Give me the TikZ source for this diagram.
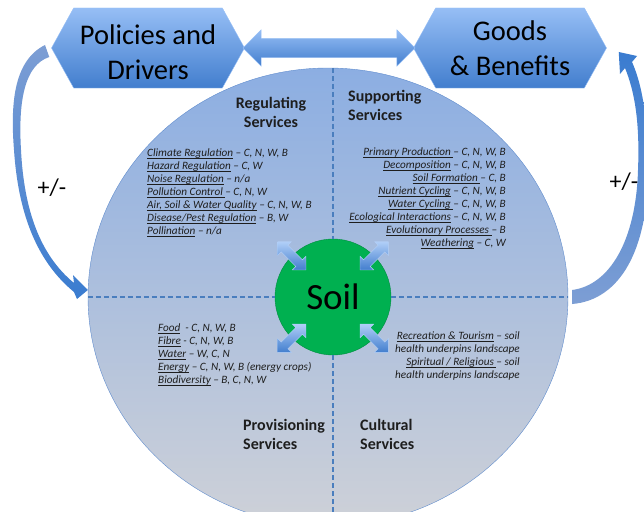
\documentclass[tikz,border=0pt]{standalone}
\usepackage{fontspec}
\setmainfont{Carlito}
\usetikzlibrary{shapes.geometric, shapes.symbols, shapes.arrows, positioning, calc}
\definecolor{hexTop}{RGB}{150,190,245}
\definecolor{hexBot}{RGB}{66,126,206}
\definecolor{ringTop}{RGB}{140,174,226}
\definecolor{ringBot}{RGB}{206,209,216}
\definecolor{ringLine}{RGB}{96,140,205}
\definecolor{dashBlue}{RGB}{74,126,190}
\definecolor{soilGreen}{RGB}{0,176,80}
\definecolor{curveGrey}{RGB}{125,158,212}
\definecolor{curveBlue}{RGB}{58,124,208}
\definecolor{txtGrey}{RGB}{30,30,30}
\newcommand{\svcul}[1]{\underline{\smash{#1}}}
\tikzset{
  hexbox/.style={signal, signal to=west and east, signal pointer angle=122, minimum width=193pt, minimum height=80pt, inner sep=0pt, draw=hexTop, top color=hexTop, bottom color=hexBot, align=center, font=\fontsize{28.5}{35}\selectfont},
  linkarrow/.style={double arrow, draw=hexTop, top color=hexTop, bottom color=hexBot, inner xsep=0pt, inner ysep=9.5pt},
  soilarrow/.style={double arrow, minimum height=40pt, double arrow head extend=5pt, inner xsep=0pt, inner ysep=4.5pt, draw=hexTop!70!white, top color=hexTop!75!white, bottom color=hexBot},
  title/.style={font=\fontsize{16}{19}\selectfont\bfseries, text=txtGrey, inner sep=0pt},
  list/.style={font=\fontsize{11.2}{13}\selectfont\itshape, text=txtGrey, inner sep=0pt},
  divider/.style={dashBlue, dashed, line width=1.4pt, dash pattern=on 5pt off 3pt},
  sign/.style={font=\fontsize{24}{26}\selectfont, inner sep=0pt}
}

\begin{document}
\begin{tikzpicture}[x=1pt, y=-1pt]
\clip (0,0) rectangle (644,511);
% Wheel of services
\node[ellipse, minimum width=480pt, minimum height=458pt, draw=ringLine, top color=ringTop, bottom color=ringBot] (ring) at (328,297) {};
\node[circle, minimum size=116pt, fill=soilGreen, draw=soilGreen!80!black, font=\fontsize{37}{40}\selectfont] (soil) at (333,297) {Soil};
\draw[divider] (ring.west) -- (soil.west);
\draw[divider] (soil.east) -- (ring.east);
\draw[divider] (ring.north -| soil) -- (soil.north);
\draw[divider] (soil.south) -- (ring.south -| soil);

% Arrows round Soil
\node[soilarrow, rotate=-45] (sa1) at (soil.north west) {};
\node[soilarrow, rotate=45] (sa2) at (soil.north east) {};
\node[soilarrow, rotate=45] (sa3) at (soil.south west) {};
\node[soilarrow, rotate=-45] (sa4) at (soil.south east) {};

% Top boxes
\node[hexbox] (pol) at (148,48) {\rule{0pt}{29pt}Policies and\\Drivers};
\node[hexbox] (goods) at (510,48) {Goods\\\& Benefits};
\node[linkarrow, minimum height=172pt, double arrow head extend=8.5pt] (link) at ($(pol.east)!0.5!(goods.west)$) {};

% Feedback arrows
\shade[top color=curveGrey, bottom color=curveBlue] (45,45) .. controls (15,60) and (10,100) .. (14,150)
  .. controls (18,210) and (35,260) .. (74,292)
  -- (77,299) -- ($(ring.west)+(0,-7)$) -- (73,275) -- (74,283)
  .. controls (40,255) and (24,210) .. (21,150)
  .. controls (18,100) and (25,65) .. ($(pol.west)+(-2,9)$) -- cycle;
\shade[top color=curveBlue, bottom color=curveGrey] ($(ring.east)+(4,7)$) .. controls (620,300) and (648,250) .. (648,170)
  .. controls (648,110) and (640,80) .. (632,62)
  -- (637,56) -- ($(goods.east)+(12,4)$) -- (620,74) -- (625,68)
  .. controls (634,90) and (640,120) .. (638,170)
  .. controls (636,240) and (610,285) .. ($(ring.east)+(4,-7)$) -- cycle;
\node[sign] (pm1) at (52,188) {+/-};
\node[sign] (pm2) at (624,182) {+/-};

% Quadrant titles
\node[title, align=center] (reg) at (271,112) {Regulating\\Services};
\node[title, align=left, anchor=north west] (sup) at (348,90) {Supporting\\Services};
\node[title, align=left, anchor=north west] (pro) at (243,419) {Provisioning\\Services};
\node[title, align=left, anchor=north west] (cul) at (360,419) {Cultural\\Services};

% Quadrant lists
\node[list, align=left, anchor=north west] (reglist) at (147,149) {%
\svcul{Climate Regulation} – C, N, W, B\\
\svcul{Hazard Regulation} – C, W\\
\svcul{Noise Regulation} – n/a\\
\svcul{Pollution Control }– C, N, W\\
\svcul{Air, Soil \& Water Quality} – C, N, W, B\\
\svcul{Disease/Pest Regulation} – B, W\\
\svcul{Pollination} – n/a};
\node[list, align=right, anchor=north east] (suplist) at (506,148) {%
\svcul{Primary Production }– C, N, W, B\\
\svcul{Decomposition} – C, N, W, B\\
\svcul{Soil Formation }– C, B\\
\svcul{Nutrient Cycling} – C, N, W, B\\
\svcul{Water Cycling }– C, N, W, B\\
\svcul{Ecological Interactions} – C, N, W, B\\
\svcul{Evolutionary Processes }– B\\
\svcul{Weathering} – C, W};
\node[list, align=left, anchor=north west] (prolist) at (158,324) {%
\svcul{Food}\ \ - C, N, W, B\\
\svcul{Fibre} - C, N, W, B\\
\svcul{Water} – W, C, N\\
\svcul{Energy} – C, N, W, B (energy crops)\\
\svcul{Biodiversity} – B, C, N, W};
\node[list, align=right, anchor=north east] (cullist) at (520,332) {%
\svcul{Recreation \& Tourism} – soil\\
health underpins landscape\\
\svcul{Spiritual / Religious }– soil\\
health underpins landscape};
\end{tikzpicture}
\end{document}
